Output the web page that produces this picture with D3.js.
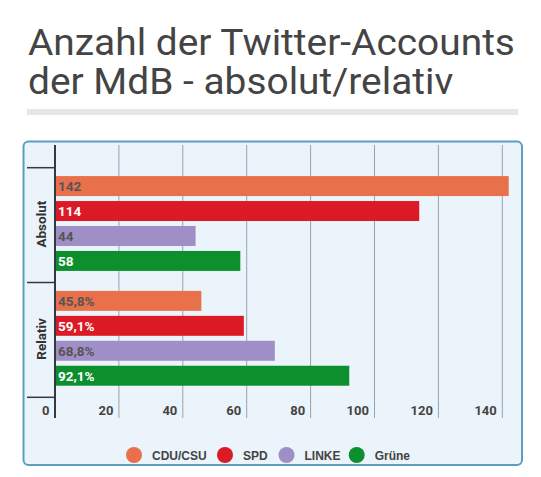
<!DOCTYPE html>
<html>
<head>
<meta charset="utf-8">
<script src="https://cdn.jsdelivr.net/npm/d3@7"></script>
<style>
  html, body { margin: 0; padding: 0; background: #ffffff; }
  svg { display: block; }
</style>
</head>
<body>
<script>
// ---- data ----
const categories = ["CDU/CSU", "SPD", "LINKE", "Grüne"];
const groups = ["Absolut", "Relativ"];
const absolutValues = [142, 114, 44, 58];
const relativValues = [45.8, 59.1, 68.8, 92.1];
const relativLabels = ["45,8%", "59,1%", "68,8%", "92,1%"];
const absolutLabels = ["142", "114", "44", "58"];
const xTicks = [0, 20, 40, 60, 80, 100, 120, 140];
const titleLines = ["Anzahl der Twitter-Accounts", "der MdB - absolut/relativ"];

const colors = ["#e8704a", "#dc1a25", "#a08fc6", "#0e8f2e"];
const labelColors = ["#555555", "#ffffff", "#555555", "#ffffff"];

const rows = [];
groups.forEach((g, gi) => {
  categories.forEach((c, ci) => {
    rows.push({
      group: g, cat: c, ci: ci,
      value: gi === 0 ? absolutValues[ci] : relativValues[ci],
      label: gi === 0 ? absolutLabels[ci] : relativLabels[ci]
    });
  });
});

const W = 541, H = 477;
const svg = d3.select("body").append("svg").attr("width", W).attr("height", H);

// title: fit first line to the reference width (28 → 515)
const titleG = svg.append("g");
const titleTexts = titleG.selectAll("text").data(titleLines).enter().append("text")
  .attr("x", 0)
  .attr("y", (d, i) => 55.5 + i * 38.7)
  .attr("font-family", "Roboto, sans-serif")
  .attr("font-size", 37.5)
  .attr("fill", "#444444")
  .text(d => d);
const w0 = titleTexts.node().getComputedTextLength();
const sx = w0 > 0 ? Math.min(1.2, Math.max(1, 487 / w0)) : 1.1;
titleG.attr("transform", `translate(28,0) scale(${sx},1)`);

svg.append("rect").attr("x", 27).attr("y", 109).attr("width", 491).attr("height", 6)
  .attr("fill", "#e6e6e6");

// box
svg.append("rect")
  .attr("x", 23.5).attr("y", 141.5).attr("width", 498.5).attr("height", 323.5)
  .attr("rx", 5).attr("ry", 5)
  .attr("fill", "#ebf3fb").attr("stroke", "#5b9ec4").attr("stroke-width", 2);

// scales
const x = d3.scaleLinear().domain([0, 140]).range([55, 502.3]);
const yGroup = d3.scaleBand().domain(groups).range([167.7, 397.3]).padding(0);
const yInner = d3.scaleBand().domain(categories).range([0, yGroup.bandwidth()])
  .paddingInner(0.2).paddingOuter(0.4).align(0.42);

const gridTop = 145, gridBottom = 418;

// gridlines
svg.append("g").selectAll("line").data(xTicks.filter(t => t > 0)).enter().append("line")
  .attr("x1", d => x(d)).attr("x2", d => x(d))
  .attr("y1", gridTop).attr("y2", gridBottom)
  .attr("stroke", "#9aa3ad").attr("stroke-width", 1);

// tick labels
svg.append("g").selectAll("text").data(xTicks).enter().append("text")
  .attr("x", d => x(d) - 5.5)
  .attr("y", 415)
  .attr("text-anchor", "end")
  .attr("font-family", "Roboto, sans-serif")
  .attr("font-weight", "bold")
  .attr("font-size", 13)
  .attr("fill", "#444444")
  .text(d => d);

// bars
const barG = svg.append("g");
barG.selectAll("rect").data(rows).enter().append("rect")
  .attr("x", x(0))
  .attr("y", d => yGroup(d.group) + yInner(d.cat))
  .attr("width", d => x(d.value) - x(0))
  .attr("height", yInner.bandwidth())
  .attr("fill", d => colors[d.ci]);

barG.selectAll("text").data(rows).enter().append("text")
  .attr("x", x(0) + 3)
  .attr("y", d => yGroup(d.group) + yInner(d.cat) + yInner.bandwidth() / 2 + 4.8)
  .attr("font-family", "Roboto, sans-serif")
  .attr("font-weight", "bold")
  .attr("font-size", 13.5)
  .attr("fill", d => labelColors[d.ci])
  .text(d => d.label);

// y axis line
svg.append("line").attr("x1", x(0)).attr("x2", x(0)).attr("y1", gridTop).attr("y2", gridBottom)
  .attr("stroke", "#333a40").attr("stroke-width", 2);

// group separators
const seps = [yGroup.range()[0], yGroup(groups[1]), yGroup.range()[1]];
svg.append("g").selectAll("line").data(seps).enter().append("line")
  .attr("x1", 27).attr("x2", x(0)).attr("y1", d => d).attr("y2", d => d)
  .attr("stroke", "#333a40").attr("stroke-width", 1.5);

// group labels
svg.append("g").selectAll("text").data(groups).enter().append("text")
  .attr("transform", d => `translate(41, ${yGroup(d) + yGroup.bandwidth() / 2 - 1}) rotate(-90)`)
  .attr("text-anchor", "middle")
  .attr("dominant-baseline", "central")
  .attr("font-family", "Roboto, sans-serif")
  .attr("font-weight", "bold")
  .attr("font-size", 13.5)
  .attr("fill", "#333333")
  .text(d => d);

// legend
const legendCircleX = [134, 225, 286.5, 356.7];
const legend = svg.append("g").selectAll("g").data(categories).enter().append("g")
  .attr("transform", (d, i) => `translate(${legendCircleX[i]}, 455)`);
legend.append("circle").attr("r", 8).attr("fill", (d, i) => colors[i]);
legend.append("text")
  .attr("x", 18).attr("y", 4.5)
  .attr("font-family", "'Liberation Sans', Arial, sans-serif")
  .attr("font-weight", "bold")
  .attr("font-size", 12)
  .attr("fill", "#444444")
  .text(d => d);
</script>
</body>
</html>
